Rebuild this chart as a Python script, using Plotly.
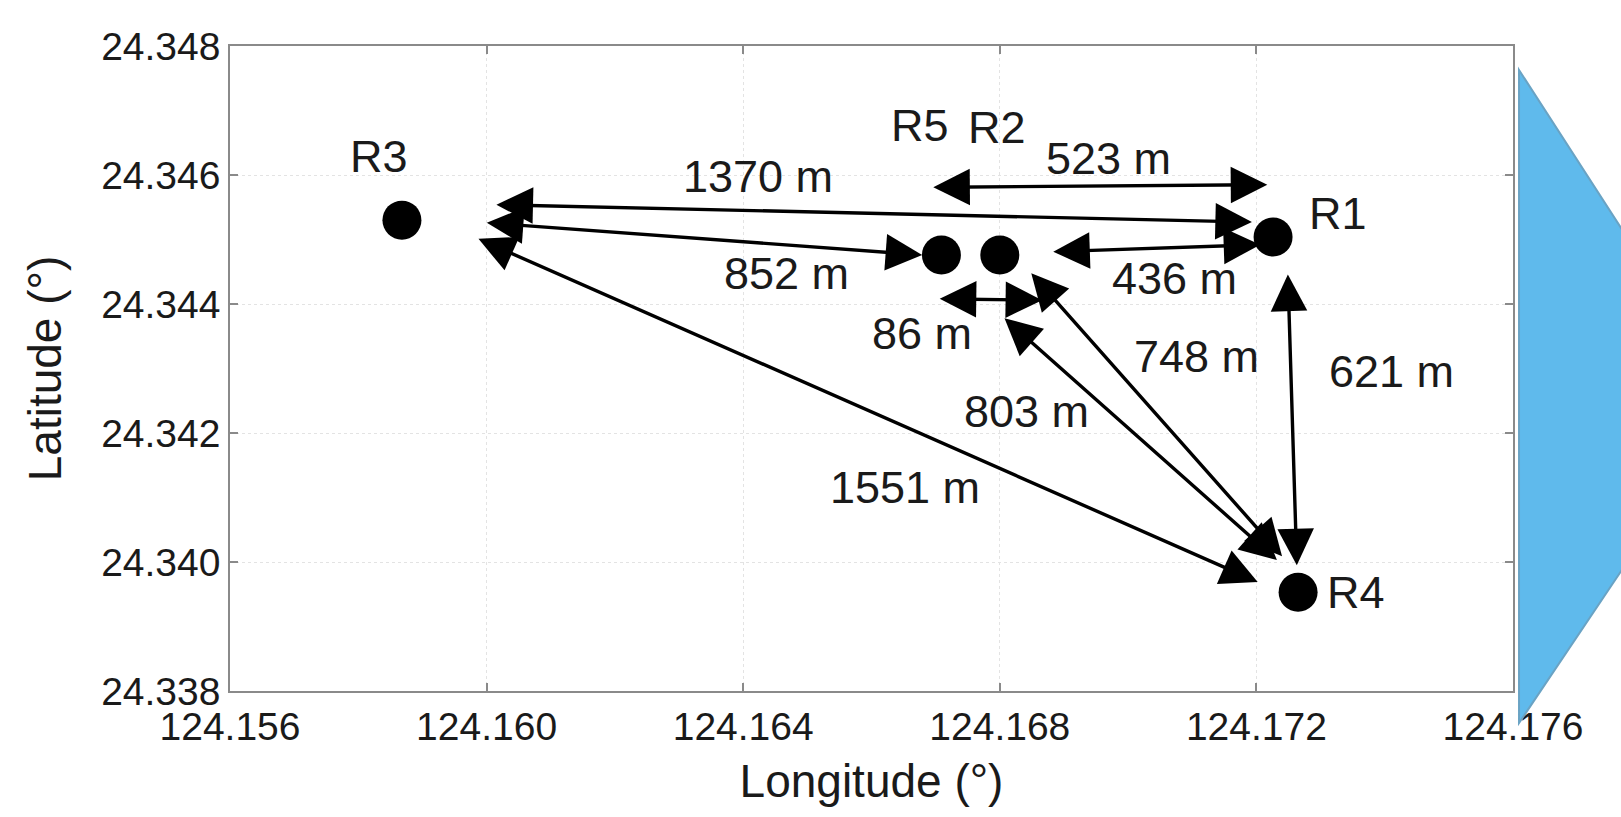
import plotly.graph_objects as go

# Receiver positions (longitude, latitude)
station_names = ["R1", "R2", "R3", "R4", "R5"]
station_lon = [124.17226, 124.16800, 124.15868, 124.17265, 124.16709]
station_lat = [24.34504, 24.34476, 24.34530, 24.33953, 24.34476]

# Station label positions
label_lon = [124.17327, 124.16796, 124.15832, 124.17355, 124.16676]
label_lat = [24.34540, 24.34674, 24.34628, 24.33952, 24.34676]

# Distance arrows (double headed): start/end coordinates
dist_labels = ["1370 m", "852 m", "1551 m", "523 m", "436 m", "86 m", "803 m", "748 m", "621 m"]
arrow_lon0 = [124.16013, 124.15998, 124.15985, 124.16694, 124.16881, 124.16704, 124.16805, 124.16847, 124.17249]
arrow_lat0 = [24.34554, 24.34526, 24.34502, 24.34581, 24.34481, 24.34408, 24.34380, 24.34450, 24.34448]
arrow_lon1 = [124.17193, 124.16679, 124.17202, 124.17217, 124.17206, 124.16866, 124.17232, 124.17240, 124.17263]
arrow_lat1 = [24.34527, 24.34476, 24.33969, 24.34585, 24.34492, 24.34406, 24.34003, 24.34009, 24.33995]

# Distance text positions
dist_lon = [124.16423, 124.16468, 124.16652, 124.16969, 124.17073, 124.16679, 124.16842, 124.17107, 124.17411]
dist_lat = [24.34598, 24.34447, 24.34116, 24.34626, 24.34440, 24.34355, 24.34233, 24.34319, 24.34295]

x_ticks = [124.156, 124.160, 124.164, 124.168, 124.172, 124.176]
y_ticks = [24.338, 24.340, 24.342, 24.344, 24.346, 24.348]

FONT = "Liberation Sans, Arial, Helvetica, sans-serif"
TXT = "#1a1a1a"

fig = go.Figure()
fig.add_trace(go.Scatter(
    x=station_lon, y=station_lat, mode="markers",
    marker=dict(size=39, color="black"), showlegend=False, hoverinfo="skip",
))

annotations = []
for i in range(len(dist_labels)):
    annotations.append(dict(
        x=arrow_lon1[i], y=arrow_lat1[i], ax=arrow_lon0[i], ay=arrow_lat0[i],
        xref="x", yref="y", axref="x", ayref="y", text="", showarrow=True,
        arrowside="end+start", arrowhead=2, startarrowhead=2,
        arrowsize=2.15, startarrowsize=2.15, arrowwidth=3.4, arrowcolor="black",
    ))
    annotations.append(dict(
        x=dist_lon[i], y=dist_lat[i], xref="x", yref="y", text=dist_labels[i],
        showarrow=False, font=dict(family=FONT, size=45, color=TXT),
    ))
for i in range(len(station_names)):
    annotations.append(dict(
        x=label_lon[i], y=label_lat[i], xref="x", yref="y", text=station_names[i],
        showarrow=False, font=dict(family=FONT, size=45, color=TXT),
    ))

fig.update_layout(
    width=1621, height=817,
    margin=dict(l=230, r=108, t=46, b=126),
    paper_bgcolor="white", plot_bgcolor="white",
    annotations=annotations,
    shapes=[dict(
        type="path", xref="paper", yref="paper",
        path="M 1.0047 0.9628 L 1.1723 0.4465 L 1.0047 -0.0496 Z",
        fillcolor="#5fbaec", line=dict(color="#6aa3c4", width=2), layer="above",
    )],
    font=dict(family=FONT, color=TXT),
)

axis_common = dict(
    showgrid=True, gridcolor="#e3e3e3", griddash="dot", gridwidth=1,
    showline=True, linecolor="#8a8a8a", linewidth=1.5, mirror="ticks",
    ticks="inside", ticklen=8, tickcolor="#8a8a8a", tickwidth=1.5,
    zeroline=False, tickfont=dict(family=FONT, size=39, color=TXT),
    tickformat=".3f",
)
fig.update_xaxes(
    range=[x_ticks[0] - 1e-7, x_ticks[-1] + 1e-7], tickvals=x_ticks,
    title=dict(text="Longitude (°)", font=dict(family=FONT, size=46, color=TXT), standoff=18),
    **axis_common,
)
fig.update_yaxes(
    range=[y_ticks[0] - 1e-8, y_ticks[-1] + 1e-8], tickvals=y_ticks,
    title=dict(text="Latitude (°)", font=dict(family=FONT, size=46, color=TXT), standoff=25),
    **axis_common,
)

fig.write_html(
    "out.html",
    config={"displayModeBar": False},
    post_script="document.body.style.margin='0';document.body.style.overflow='hidden';",
)
